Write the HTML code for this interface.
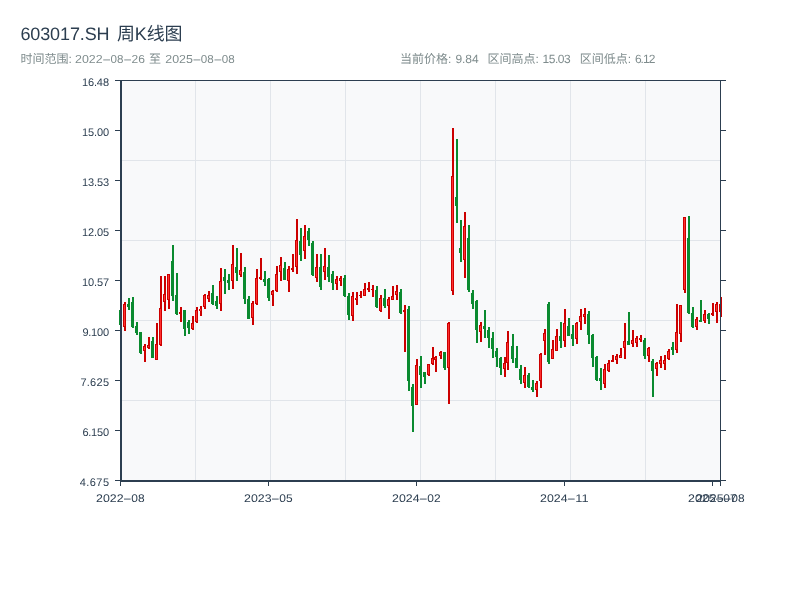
<!DOCTYPE html>
<html lang="zh-CN">
<head>
<meta charset="utf-8">
<title>603017.SH 周K线图</title>
<style>
html,body{margin:0;padding:0;background:#ffffff;}
body{width:800px;height:600px;overflow:hidden;font-family:"Liberation Sans","Noto Sans CJK SC",sans-serif;}
svg{display:block;will-change:transform;}
</style>
</head>
<body>
<svg width="800" height="600" viewBox="0 0 800 600" shape-rendering="crispEdges" text-rendering="geometricPrecision">
<rect x="0" y="0" width="800" height="600" fill="#ffffff"/>
<rect x="122" y="81" width="598" height="399" fill="#f8f9fa"/>
<rect x="195" y="81" width="1" height="399" fill="#e1e5ea"/>
<rect x="270" y="81" width="1" height="399" fill="#e1e5ea"/>
<rect x="345" y="81" width="1" height="399" fill="#e1e5ea"/>
<rect x="420" y="81" width="1" height="399" fill="#e1e5ea"/>
<rect x="495" y="81" width="1" height="399" fill="#e1e5ea"/>
<rect x="570" y="81" width="1" height="399" fill="#e1e5ea"/>
<rect x="645" y="81" width="1" height="399" fill="#e1e5ea"/>
<rect x="122" y="160" width="598" height="1" fill="#e1e5ea"/>
<rect x="122" y="240" width="598" height="1" fill="#e1e5ea"/>
<rect x="122" y="320" width="598" height="1" fill="#e1e5ea"/>
<rect x="122" y="400" width="598" height="1" fill="#e1e5ea"/>
<g fill="#0a8a2f"><rect x="120" y="310" width="2" height="15"/><rect x="119" y="310" width="3" height="15"/><rect x="128" y="298" width="2" height="11.5"/><rect x="127" y="304" width="3" height="3"/><rect x="132" y="297" width="2" height="30.5"/><rect x="131" y="302" width="3" height="25.25"/><rect x="136" y="322" width="2" height="12.5"/><rect x="135" y="325.5" width="3" height="7.5"/><rect x="140" y="332" width="2" height="21.75"/><rect x="139" y="332" width="3" height="21"/><rect x="152" y="337" width="2" height="21"/><rect x="151" y="341" width="3" height="16.5"/><rect x="172" y="245" width="2" height="55.5"/><rect x="171" y="261" width="3" height="34.5"/><rect x="176" y="273" width="2" height="41.5"/><rect x="175" y="295" width="3" height="18.75"/><rect x="184" y="310" width="2" height="26"/><rect x="183" y="310" width="3" height="18.5"/><rect x="188" y="320" width="2" height="13.75"/><rect x="187" y="322" width="3" height="5.5"/><rect x="212" y="285" width="2" height="19.75"/><rect x="211" y="293" width="3" height="10.75"/><rect x="216" y="296" width="2" height="12.5"/><rect x="215" y="301" width="3" height="4.5"/><rect x="224" y="269" width="2" height="24.5"/><rect x="223" y="277" width="3" height="3.75"/><rect x="228" y="274" width="2" height="15.5"/><rect x="227" y="280" width="3" height="3"/><rect x="236" y="248" width="2" height="32.75"/><rect x="235" y="267" width="3" height="5.75"/><rect x="244" y="267" width="2" height="36.5"/><rect x="243" y="271.75" width="3" height="26.75"/><rect x="248" y="296" width="2" height="23"/><rect x="247" y="299" width="3" height="19.5"/><rect x="264" y="271" width="2" height="14.75"/><rect x="263" y="279" width="3" height="3"/><rect x="268" y="278" width="2" height="22.75"/><rect x="267" y="279" width="3" height="19"/><rect x="284" y="262" width="2" height="17.75"/><rect x="283" y="268" width="3" height="11.5"/><rect x="300" y="228" width="2" height="33"/><rect x="299" y="241" width="3" height="13.5"/><rect x="308" y="228" width="2" height="18"/><rect x="307" y="231" width="3" height="8.5"/><rect x="312" y="240.75" width="2" height="35"/><rect x="311" y="242.75" width="3" height="32.25"/><rect x="320" y="254" width="2" height="35.75"/><rect x="319" y="267" width="3" height="19.5"/><rect x="328" y="255" width="2" height="26.75"/><rect x="327" y="267" width="3" height="9.5"/><rect x="332" y="271" width="2" height="18.75"/><rect x="331" y="273.75" width="3" height="8.75"/><rect x="344" y="275" width="2" height="22"/><rect x="343" y="277.75" width="3" height="18.25"/><rect x="348" y="293" width="2" height="26.5"/><rect x="347" y="296.25" width="3" height="18.25"/><rect x="376" y="286" width="2" height="21.75"/><rect x="375" y="290" width="3" height="17"/><rect x="384" y="289" width="2" height="18.75"/><rect x="383" y="298" width="3" height="8.25"/><rect x="400" y="289" width="2" height="24.75"/><rect x="399" y="292" width="3" height="21"/><rect x="408" y="306" width="2" height="84.75"/><rect x="407" y="308.5" width="3" height="72.25"/><rect x="412" y="384" width="2" height="47.75"/><rect x="411" y="386.5" width="3" height="19.25"/><rect x="420" y="356" width="2" height="31.5"/><rect x="419" y="366" width="3" height="8.5"/><rect x="424" y="372" width="2" height="11.5"/><rect x="423" y="372" width="3" height="5"/><rect x="444" y="352" width="2" height="17.75"/><rect x="443" y="352.25" width="3" height="15.5"/><rect x="456" y="139" width="2" height="83.75"/><rect x="455" y="197" width="3" height="8.5"/><rect x="460" y="220" width="2" height="42"/><rect x="459" y="248" width="3" height="4.5"/><rect x="468" y="225" width="2" height="67"/><rect x="467" y="238" width="3" height="51.75"/><rect x="472" y="290" width="2" height="18.75"/><rect x="471" y="293" width="3" height="10.75"/><rect x="476" y="300" width="2" height="42.75"/><rect x="475" y="301" width="3" height="28.5"/><rect x="484" y="310" width="2" height="27.5"/><rect x="483" y="326.25" width="3" height="2.5"/><rect x="488" y="327" width="2" height="20.5"/><rect x="487" y="330" width="3" height="8"/><rect x="492" y="332" width="2" height="25.75"/><rect x="491" y="338" width="3" height="10.75"/><rect x="496" y="348" width="2" height="18.75"/><rect x="495" y="351" width="3" height="6"/><rect x="500" y="357" width="2" height="17.75"/><rect x="499" y="358" width="3" height="10"/><rect x="512" y="334" width="2" height="29"/><rect x="511" y="346" width="3" height="12.75"/><rect x="516" y="346" width="2" height="22"/><rect x="515" y="358" width="3" height="9.75"/><rect x="520" y="365" width="2" height="18.75"/><rect x="519" y="368.75" width="3" height="11.25"/><rect x="528" y="373" width="2" height="14.75"/><rect x="527" y="375" width="3" height="12.25"/><rect x="532" y="380" width="2" height="12"/><rect x="531" y="387" width="3" height="3"/><rect x="548" y="302" width="2" height="62"/><rect x="547" y="304" width="3" height="57.75"/><rect x="560" y="322" width="2" height="25.75"/><rect x="559" y="336" width="3" height="4.5"/><rect x="568" y="318" width="2" height="18"/><rect x="567" y="326" width="3" height="9.75"/><rect x="572" y="325" width="2" height="21"/><rect x="571" y="334" width="3" height="4.5"/><rect x="588" y="311" width="2" height="32.75"/><rect x="587" y="314" width="3" height="20.75"/><rect x="592" y="334" width="2" height="32.75"/><rect x="591" y="334.75" width="3" height="22.75"/><rect x="596" y="356.25" width="2" height="24.25"/><rect x="595" y="357" width="3" height="23"/><rect x="600" y="368" width="2" height="21.75"/><rect x="599" y="378" width="3" height="2.5"/><rect x="628" y="312" width="2" height="32.75"/><rect x="627" y="341" width="3" height="3.5"/><rect x="644" y="338" width="2" height="20.75"/><rect x="643" y="340" width="3" height="15.5"/><rect x="652" y="359" width="2" height="38"/><rect x="651" y="360.75" width="3" height="9.75"/><rect x="672" y="342" width="2" height="13"/><rect x="671" y="347" width="3" height="3"/><rect x="688" y="216" width="2" height="97.75"/><rect x="687" y="238" width="3" height="74.75"/><rect x="692" y="307" width="2" height="20.75"/><rect x="691" y="313" width="3" height="14"/><rect x="700" y="300" width="2" height="21.75"/><rect x="699" y="319.5" width="3" height="2"/><rect x="708" y="313" width="2" height="10.75"/><rect x="707" y="313.75" width="3" height="5"/></g>
<g fill="#cc0000"><rect x="124" y="302" width="2" height="28.5"/><rect x="123" y="304" width="3" height="23"/><rect x="144" y="344" width="2" height="18"/><rect x="143" y="346.25" width="3" height="4.25"/><rect x="148" y="337" width="2" height="11.75"/><rect x="147" y="344.5" width="3" height="3.5"/><rect x="156" y="323" width="2" height="36.75"/><rect x="155" y="344" width="3" height="15.5"/><rect x="160" y="276" width="2" height="70"/><rect x="159" y="308" width="3" height="37"/><rect x="164" y="276" width="2" height="34.5"/><rect x="163" y="294" width="3" height="8"/><rect x="168" y="274" width="2" height="34.75"/><rect x="167" y="274" width="3" height="25.5"/><rect x="180" y="307" width="2" height="15"/><rect x="179" y="312" width="3" height="1.75"/><rect x="192" y="316" width="2" height="13.75"/><rect x="191" y="322.5" width="3" height="6.25"/><rect x="196" y="307" width="2" height="15.75"/><rect x="195" y="310" width="3" height="12.25"/><rect x="200" y="306" width="2" height="9.5"/><rect x="199" y="308.75" width="3" height="2.5"/><rect x="204" y="294" width="2" height="14.5"/><rect x="203" y="295" width="3" height="11.5"/><rect x="208" y="291" width="2" height="11"/><rect x="207" y="294.5" width="3" height="4"/><rect x="220" y="268" width="2" height="42.5"/><rect x="219" y="281" width="3" height="22.5"/><rect x="232" y="245" width="2" height="43.5"/><rect x="231" y="264" width="3" height="17"/><rect x="240" y="253" width="2" height="23.75"/><rect x="239" y="270" width="3" height="4.5"/><rect x="252" y="301" width="2" height="24"/><rect x="251" y="302.5" width="3" height="15.5"/><rect x="256" y="269" width="2" height="36"/><rect x="255" y="278" width="3" height="26.25"/><rect x="260" y="258" width="2" height="21.5"/><rect x="259" y="277" width="3" height="2"/><rect x="272" y="290.25" width="2" height="15.25"/><rect x="271" y="291" width="3" height="4"/><rect x="276" y="266" width="2" height="25.75"/><rect x="275" y="274" width="3" height="17"/><rect x="280" y="257" width="2" height="23.75"/><rect x="279" y="265" width="3" height="6.5"/><rect x="288" y="266" width="2" height="25.5"/><rect x="287" y="269" width="3" height="12.25"/><rect x="292" y="254" width="2" height="17.75"/><rect x="291" y="268" width="3" height="1.5"/><rect x="296" y="219" width="2" height="55"/><rect x="295" y="240" width="3" height="26.5"/><rect x="304" y="225" width="2" height="33.75"/><rect x="303" y="236.25" width="3" height="14.25"/><rect x="316" y="254" width="2" height="27.75"/><rect x="315" y="267" width="3" height="11.25"/><rect x="324" y="248" width="2" height="31.75"/><rect x="323" y="266" width="3" height="5.5"/><rect x="336" y="276" width="2" height="13.75"/><rect x="335" y="278.75" width="3" height="5"/><rect x="340" y="276" width="2" height="9.75"/><rect x="339" y="277.75" width="3" height="3"/><rect x="352" y="292" width="2" height="28.5"/><rect x="351" y="295.5" width="3" height="20"/><rect x="356" y="292" width="2" height="12.75"/><rect x="355" y="297.5" width="3" height="2"/><rect x="360" y="291" width="2" height="6.75"/><rect x="359" y="295" width="3" height="1.25"/><rect x="364" y="283" width="2" height="12.75"/><rect x="363" y="288.75" width="3" height="6.75"/><rect x="368" y="282" width="2" height="9.5"/><rect x="367" y="288" width="3" height="1.75"/><rect x="372" y="285" width="2" height="11.5"/><rect x="371" y="288.75" width="3" height="1.25"/><rect x="380" y="295" width="2" height="17"/><rect x="379" y="298" width="3" height="13.25"/><rect x="388" y="297" width="2" height="21.75"/><rect x="387" y="299" width="3" height="7.25"/><rect x="392" y="286" width="2" height="13.75"/><rect x="391" y="296.25" width="3" height="3.25"/><rect x="396" y="285" width="2" height="14.75"/><rect x="395" y="291.25" width="3" height="3.75"/><rect x="404" y="305" width="2" height="46.5"/><rect x="403" y="310" width="3" height="2"/><rect x="416" y="359" width="2" height="46"/><rect x="415" y="365" width="3" height="39.5"/><rect x="428" y="364" width="2" height="11.5"/><rect x="427" y="364" width="3" height="11"/><rect x="432" y="347" width="2" height="17.75"/><rect x="431" y="358" width="3" height="6.25"/><rect x="435" y="356" width="2" height="15.75"/><rect x="434" y="357" width="3" height="2.5"/><rect x="440" y="351" width="2" height="7.75"/><rect x="439" y="352" width="3" height="3.5"/><rect x="448" y="322" width="2" height="81.5"/><rect x="447" y="322.5" width="3" height="45"/><rect x="452" y="128" width="2" height="167"/><rect x="451" y="176.25" width="3" height="114.25"/><rect x="464" y="212" width="2" height="65.75"/><rect x="463" y="226" width="3" height="33.75"/><rect x="480" y="322" width="2" height="19.5"/><rect x="479" y="324.5" width="3" height="7.1"/><rect x="504" y="357" width="2" height="20"/><rect x="503" y="363" width="3" height="5.75"/><rect x="507" y="331" width="2" height="38.75"/><rect x="506" y="342.25" width="3" height="21"/><rect x="524" y="367" width="2" height="20.75"/><rect x="523" y="375" width="3" height="7.5"/><rect x="536" y="381" width="2" height="16"/><rect x="535" y="383" width="3" height="6.5"/><rect x="540" y="353" width="2" height="34.75"/><rect x="539" y="354" width="3" height="27"/><rect x="544" y="329" width="2" height="25.75"/><rect x="543" y="333" width="3" height="8"/><rect x="552" y="339.75" width="2" height="19.25"/><rect x="551" y="349" width="3" height="9.5"/><rect x="556" y="329" width="2" height="22"/><rect x="555" y="336" width="3" height="14.5"/><rect x="564" y="309" width="2" height="38"/><rect x="563" y="323" width="3" height="17.5"/><rect x="576" y="322" width="2" height="21.75"/><rect x="575" y="323" width="3" height="15.5"/><rect x="580" y="309" width="2" height="20.75"/><rect x="579" y="316" width="3" height="6.25"/><rect x="584" y="308" width="2" height="15.75"/><rect x="583" y="314" width="3" height="2.5"/><rect x="604" y="364" width="2" height="23.75"/><rect x="603" y="368.75" width="3" height="15"/><rect x="608" y="360" width="2" height="12"/><rect x="607" y="363" width="3" height="8.25"/><rect x="612" y="355" width="2" height="7"/><rect x="611" y="360" width="3" height="1.5"/><rect x="616" y="354" width="2" height="9.75"/><rect x="615" y="356.25" width="3" height="3.25"/><rect x="620" y="348" width="2" height="9.75"/><rect x="619" y="354.5" width="3" height="3"/><rect x="624" y="323" width="2" height="35.75"/><rect x="623" y="341" width="3" height="6.5"/><rect x="632" y="330" width="2" height="17"/><rect x="631" y="340" width="3" height="3.75"/><rect x="636" y="336" width="2" height="11"/><rect x="635" y="338" width="3" height="4.5"/><rect x="640" y="335" width="2" height="7"/><rect x="639" y="337.5" width="3" height="2.5"/><rect x="648" y="347" width="2" height="15"/><rect x="647" y="348" width="3" height="7.5"/><rect x="656" y="362" width="2" height="14"/><rect x="655" y="363" width="3" height="5.75"/><rect x="660" y="356" width="2" height="11.75"/><rect x="659" y="360" width="3" height="3.75"/><rect x="664" y="355" width="2" height="14.75"/><rect x="663" y="360" width="3" height="3.75"/><rect x="668" y="349" width="2" height="10.75"/><rect x="667" y="351.25" width="3" height="7.5"/><rect x="676" y="304" width="2" height="48.75"/><rect x="675" y="332.25" width="3" height="17.5"/><rect x="680" y="305" width="2" height="36.75"/><rect x="679" y="305.25" width="3" height="28.75"/><rect x="684" y="217" width="2" height="75.75"/><rect x="683" y="217" width="3" height="72.5"/><rect x="696" y="317" width="2" height="12.75"/><rect x="695" y="319" width="3" height="8"/><rect x="704" y="310" width="2" height="12.75"/><rect x="703" y="314" width="3" height="6.5"/><rect x="712" y="303" width="2" height="12.75"/><rect x="711" y="313.25" width="3" height="1.75"/><rect x="716" y="302" width="2" height="20.75"/><rect x="715" y="304" width="3" height="7.75"/><rect x="720" y="297" width="2" height="19.75"/><rect x="719" y="304" width="3" height="7.75"/></g>
<g fill="#ff3030"><rect x="124" y="305" width="1" height="21"/><rect x="144" y="347.25" width="1" height="2.25"/><rect x="148" y="345.5" width="1" height="1.5"/><rect x="156" y="345" width="1" height="13.5"/><rect x="160" y="309" width="1" height="35"/><rect x="164" y="295" width="1" height="6"/><rect x="168" y="275" width="1" height="23.5"/><rect x="180" y="312.6" width="1" height="0.55"/><rect x="192" y="323.5" width="1" height="4.25"/><rect x="196" y="311" width="1" height="10.25"/><rect x="200" y="309.35" width="1" height="1.3"/><rect x="204" y="296" width="1" height="9.5"/><rect x="208" y="295.5" width="1" height="2"/><rect x="220" y="282" width="1" height="20.5"/><rect x="232" y="265" width="1" height="15"/><rect x="240" y="271" width="1" height="2.5"/><rect x="252" y="303.5" width="1" height="13.5"/><rect x="256" y="279" width="1" height="24.25"/><rect x="260" y="277.6" width="1" height="0.8"/><rect x="272" y="292" width="1" height="2"/><rect x="276" y="275" width="1" height="15"/><rect x="280" y="266" width="1" height="4.5"/><rect x="288" y="270" width="1" height="10.25"/><rect x="296" y="241" width="1" height="24.5"/><rect x="304" y="237.25" width="1" height="12.25"/><rect x="316" y="268" width="1" height="9.25"/><rect x="324" y="267" width="1" height="3.5"/><rect x="336" y="279.75" width="1" height="3"/><rect x="340" y="278.75" width="1" height="1"/><rect x="352" y="296.5" width="1" height="18"/><rect x="356" y="298.1" width="1" height="0.8"/><rect x="364" y="289.75" width="1" height="4.75"/><rect x="368" y="288.6" width="1" height="0.55"/><rect x="380" y="299" width="1" height="11.25"/><rect x="388" y="300" width="1" height="5.25"/><rect x="392" y="297.25" width="1" height="1.25"/><rect x="396" y="292.25" width="1" height="1.75"/><rect x="404" y="310.6" width="1" height="0.8"/><rect x="416" y="366" width="1" height="37.5"/><rect x="428" y="365" width="1" height="9"/><rect x="432" y="359" width="1" height="4.25"/><rect x="435" y="357.6" width="1" height="1.3"/><rect x="440" y="353" width="1" height="1.5"/><rect x="448" y="323.5" width="1" height="43"/><rect x="452" y="177.25" width="1" height="112.25"/><rect x="464" y="227" width="1" height="31.75"/><rect x="480" y="325.5" width="1" height="5.1"/><rect x="504" y="364" width="1" height="3.75"/><rect x="507" y="343.25" width="1" height="19"/><rect x="524" y="376" width="1" height="5.5"/><rect x="536" y="384" width="1" height="4.5"/><rect x="540" y="355" width="1" height="25"/><rect x="544" y="334" width="1" height="6"/><rect x="552" y="350" width="1" height="7.5"/><rect x="556" y="337" width="1" height="12.5"/><rect x="564" y="324" width="1" height="15.5"/><rect x="576" y="324" width="1" height="13.5"/><rect x="580" y="317" width="1" height="4.25"/><rect x="584" y="314.6" width="1" height="1.3"/><rect x="604" y="369.75" width="1" height="13"/><rect x="608" y="364" width="1" height="6.25"/><rect x="616" y="357.25" width="1" height="1.25"/><rect x="620" y="355.5" width="1" height="1"/><rect x="624" y="342" width="1" height="4.5"/><rect x="632" y="341" width="1" height="1.75"/><rect x="636" y="339" width="1" height="2.5"/><rect x="640" y="338.1" width="1" height="1.3"/><rect x="648" y="349" width="1" height="5.5"/><rect x="656" y="364" width="1" height="3.75"/><rect x="660" y="361" width="1" height="1.75"/><rect x="664" y="361" width="1" height="1.75"/><rect x="668" y="352.25" width="1" height="5.5"/><rect x="676" y="333.25" width="1" height="15.5"/><rect x="680" y="306.25" width="1" height="26.75"/><rect x="684" y="218" width="1" height="70.5"/><rect x="696" y="320" width="1" height="6"/><rect x="704" y="315" width="1" height="4.5"/><rect x="712" y="313.85" width="1" height="0.55"/><rect x="716" y="305" width="1" height="5.75"/><rect x="720" y="305" width="1" height="5.75"/></g>
<g fill="#2c3e50"><rect x="120" y="80" width="2" height="402"/><rect x="120" y="480" width="601" height="2"/><rect x="120" y="80" width="601" height="1"/><rect x="720" y="80" width="1" height="406"/><rect x="115" y="80" width="5" height="1"/><rect x="721" y="80" width="5" height="1"/><rect x="115" y="130" width="5" height="1"/><rect x="721" y="130" width="5" height="1"/><rect x="115" y="180" width="5" height="1"/><rect x="721" y="180" width="5" height="1"/><rect x="115" y="230" width="5" height="1"/><rect x="721" y="230" width="5" height="1"/><rect x="115" y="280" width="5" height="1"/><rect x="721" y="280" width="5" height="1"/><rect x="115" y="330" width="5" height="1"/><rect x="721" y="330" width="5" height="1"/><rect x="115" y="380" width="5" height="1"/><rect x="721" y="380" width="5" height="1"/><rect x="115" y="430" width="5" height="1"/><rect x="721" y="430" width="5" height="1"/><rect x="115" y="480" width="5" height="1"/><rect x="721" y="480" width="5" height="1"/><rect x="120" y="482" width="1" height="4"/><rect x="268" y="482" width="1" height="4"/><rect x="416" y="482" width="1" height="4"/><rect x="564" y="482" width="1" height="4"/><rect x="712" y="482" width="1" height="4"/></g>
<g font-family="Liberation Sans, Noto Sans CJK SC, sans-serif"><text y="39.8" font-size="18" fill="#2c3e50"><tspan x="20.4" textLength="89.2">603017.SH</tspan><tspan> </tspan><tspan x="116.9" textLength="65.6">周K线图</tspan></text><g font-size="12" fill="#7f8c8d"><text x="20.5" y="63">时间范围:</text><text y="63" font-size="11.6"><tspan x="75.05" textLength="27.60" lengthAdjust="spacingAndGlyphs">2022</tspan><tspan x="102.11" textLength="9.29" lengthAdjust="spacingAndGlyphs">-</tspan><tspan x="110.55" textLength="12.90" lengthAdjust="spacingAndGlyphs">08</tspan><tspan x="123.11" textLength="9.29" lengthAdjust="spacingAndGlyphs">-</tspan><tspan x="131.55" textLength="13.40" lengthAdjust="spacingAndGlyphs">26</tspan></text><text x="149" y="63">至</text><text y="63" font-size="11.6"><tspan x="165.25" textLength="27.60" lengthAdjust="spacingAndGlyphs">2025</tspan><tspan x="192.31" textLength="9.29" lengthAdjust="spacingAndGlyphs">-</tspan><tspan x="200.75" textLength="12.90" lengthAdjust="spacingAndGlyphs">08</tspan><tspan x="213.31" textLength="9.29" lengthAdjust="spacingAndGlyphs">-</tspan><tspan x="221.75" textLength="12.90" lengthAdjust="spacingAndGlyphs">08</tspan></text><text x="400.0" y="63">当前价格:</text><text x="455.4" y="63" textLength="23.3">9.84</text><text x="487.6" y="63">区间高点:</text><text x="542.5" y="63" textLength="28.3">15.03</text><text x="579.7" y="63">区间低点:</text><text x="634.9" y="63" textLength="20.5">6.12</text></g><g font-size="11" fill="#2c3e50" text-anchor="end"><text x="109" y="86" textLength="27.1">16.48</text><text x="109" y="136" textLength="26.9">15.00</text><text x="109" y="186" textLength="27">13.53</text><text x="109" y="236" textLength="27">12.05</text><text x="109" y="286" textLength="27">10.57</text><text x="109" y="336" textLength="26.6">9.100</text><text x="109" y="386" textLength="28.6">7.625</text><text x="109" y="436" textLength="26.6">6.150</text><text x="109" y="486" textLength="29.2">4.675</text></g><g font-size="11" fill="#2c3e50"><text y="502" font-size="11"><tspan x="96.05" textLength="27.50" lengthAdjust="spacingAndGlyphs">2022</tspan><tspan x="122.83" textLength="9.14" lengthAdjust="spacingAndGlyphs">-</tspan><tspan x="131.25" textLength="13.30" lengthAdjust="spacingAndGlyphs">08</tspan></text><text y="502" font-size="11"><tspan x="244.05" textLength="27.50" lengthAdjust="spacingAndGlyphs">2023</tspan><tspan x="270.83" textLength="9.14" lengthAdjust="spacingAndGlyphs">-</tspan><tspan x="279.25" textLength="13.30" lengthAdjust="spacingAndGlyphs">05</tspan></text><text y="502" font-size="11"><tspan x="392.05" textLength="27.50" lengthAdjust="spacingAndGlyphs">2024</tspan><tspan x="418.83" textLength="9.14" lengthAdjust="spacingAndGlyphs">-</tspan><tspan x="427.25" textLength="13.30" lengthAdjust="spacingAndGlyphs">02</tspan></text><text y="502" font-size="11"><tspan x="540.05" textLength="27.50" lengthAdjust="spacingAndGlyphs">2024</tspan><tspan x="566.83" textLength="9.14" lengthAdjust="spacingAndGlyphs">-</tspan><tspan x="575.25" textLength="13.30" lengthAdjust="spacingAndGlyphs">11</tspan></text><text y="502" font-size="11"><tspan x="688.05" textLength="27.50" lengthAdjust="spacingAndGlyphs">2025</tspan><tspan x="714.83" textLength="9.14" lengthAdjust="spacingAndGlyphs">-</tspan><tspan x="723.25" textLength="13.30" lengthAdjust="spacingAndGlyphs">07</tspan></text><text y="502" font-size="11"><tspan x="696.05" textLength="27.50" lengthAdjust="spacingAndGlyphs">2025</tspan><tspan x="722.83" textLength="9.14" lengthAdjust="spacingAndGlyphs">-</tspan><tspan x="731.25" textLength="13.30" lengthAdjust="spacingAndGlyphs">08</tspan></text></g></g>
</svg>
</body>
</html>
